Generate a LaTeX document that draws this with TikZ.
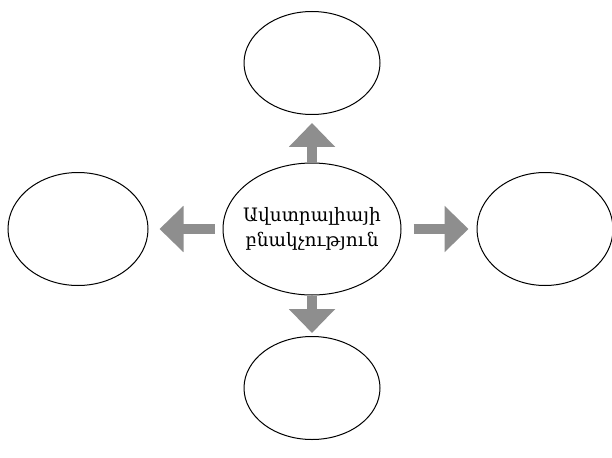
\documentclass[tikz,border=0pt]{standalone}
\usepackage{fontspec}
\newfontfamily\armfont{DejaVu Serif}
\usetikzlibrary{arrows.meta,shapes.geometric}
\definecolor{arrowgray}{RGB}{142,142,142}

\begin{document}
\begin{tikzpicture}[line cap=butt,line join=miter,x=1pt,y=-1pt,
    bubble/.style={ellipse,draw=black,line width=1pt,inner sep=0pt},
    bigarrow/.style={arrowgray,line width=10pt,-{Triangle[length=24pt,width=45pt]}}]
    \useasboundingbox (0,0) rectangle (612,457);

    \node[bubble,inner sep=-14pt,minimum width=178pt,minimum height=132pt,align=center,font=\armfont\fontsize{18.5}{25}\selectfont] (pop) at (312,229) {Ավստրալիայի\\բնակչություն};
    \node[bubble,minimum width=136pt,minimum height=103pt] (up) at (312,63) {};
    \node[bubble,minimum width=136pt,minimum height=103pt] (down) at (312,388) {};
    \node[bubble,minimum width=140pt,minimum height=113pt] (left) at (78,229) {};
    \node[bubble,minimum width=136pt,minimum height=113pt] (right) at (545,229) {};

    \draw [bigarrow,shorten >=8pt] (pop) -- (up);
    \draw [bigarrow,shorten >=3pt] (pop) -- (down);
    \draw [bigarrow,shorten <=8pt,shorten >=11pt] (pop) -- (left);
    \draw [bigarrow,shorten <=12pt,shorten >=8pt] (pop) -- (right);

\end{tikzpicture}
\end{document}
